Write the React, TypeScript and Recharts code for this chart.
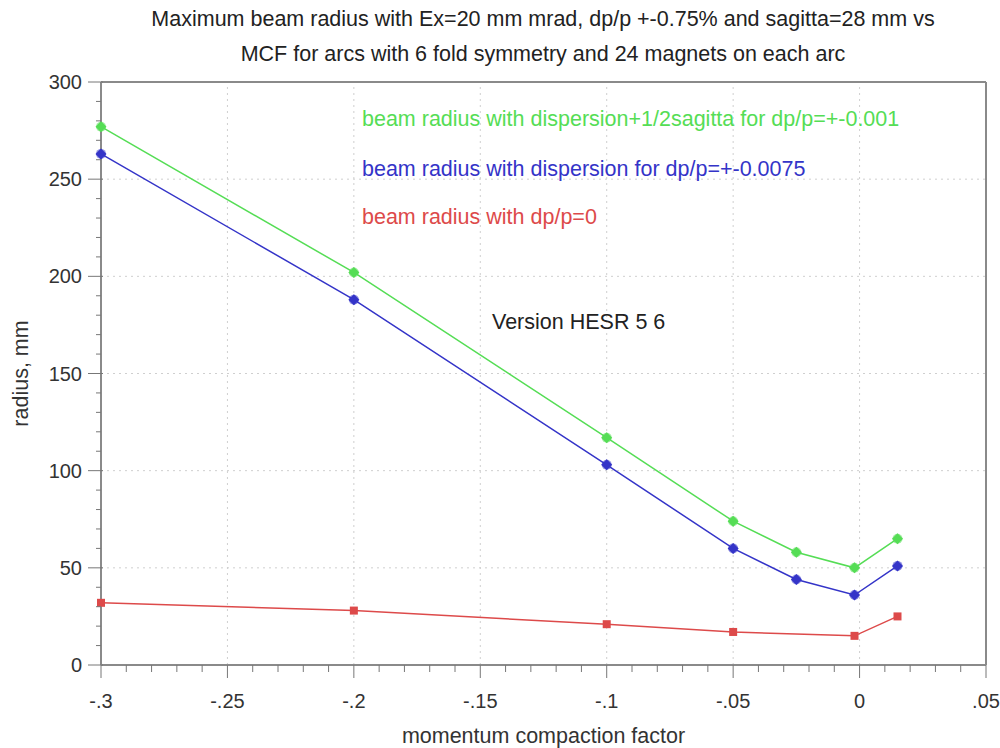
import { LineChart, Line, XAxis, YAxis, ReferenceLine } from "recharts";

const mcf = [-0.3, -0.2, -0.1, -0.05, -0.025, -0.002, 0.015];
const radiusSagitta = [277, 202, 117, 74, 58, 50, 65];
const radiusDispersion = [263, 188, 103, 60, 44, 36, 51];
const radiusZero = [32, 28, 21, 17, null, 15, 25];

const xMajor = [-0.3, -0.25, -0.2, -0.15, -0.1, -0.05, 0, 0.05];
const yMajor = [0, 50, 100, 150, 200, 250, 300];

// minor ticks every 0.01 on x and every 10 on y
const xTicks = Array.from({ length: 36 }, (_, i) => (i - 30) / 100);
const yTicks = Array.from({ length: 31 }, (_, i) => i * 10);

const data = mcf.map((x, i) => ({
  x,
  sagitta: radiusSagitta[i],
  dispersion: radiusDispersion[i],
  zero: radiusZero[i],
}));

const FONT = "'Liberation Sans', Arial, sans-serif";
const GREEN = "#55dd55";
const BLUE = "#3434c8";
const RED = "#dd4a4a";
const AXIS = "#8a8a8a";
const TXT = 21.5;

const fmtX = (v: number) => {
  if (Math.abs(v) < 1e-9) return "0";
  return v.toFixed(2).replace(/0+$/, "").replace("0.", ".");
};

const XTick = (props: any) => {
  const { x, y, payload } = props;
  const v = payload.value;
  const major = Math.round(v * 100) % 5 === 0;
  return (
    <g>
      <line x1={x} x2={x} y1={y} y2={y + (major ? 13 : 7)} stroke="#777" strokeWidth={1} />
      {major && (
        <text x={x} y={y + 43} textAnchor="middle" fontSize={20} fill="#333" fontFamily={FONT}>
          {fmtX(v)}
        </text>
      )}
    </g>
  );
};

const YTick = (props: any) => {
  const { x, y, payload } = props;
  const v = payload.value;
  const major = v % 50 === 0;
  return (
    <g>
      <line x1={major ? x - 13 : x - 5} x2={x + (major ? 2 : 0)} y1={y} y2={y} stroke="#777" strokeWidth={1} />
      {major && (
        <text x={x - 19} y={y} dy="0.35em" textAnchor="end" fontSize={20} fill="#333" fontFamily={FONT}>
          {v}
        </text>
      )}
    </g>
  );
};

const makeDot = (color: string, shape: "diamond" | "square") => (p: any) => {
  const { cx, cy, index } = p;
  if (cx == null || cy == null || p.value == null) return <g key={`d-${index}`} />;
  if (shape === "square") {
    return <rect key={`d-${index}`} x={cx - 4} y={cy - 4} width={8} height={8} fill={color} />;
  }
  return (
    <g key={`d-${index}`}>
      <circle cx={cx} cy={cy} r={5} fill={color} opacity={0.55} />
      <path d={`M${cx},${cy - 5.5} L${cx + 5.5},${cy} L${cx},${cy + 5.5} L${cx - 5.5},${cy} Z`} fill={color} />
    </g>
  );
};

const textStyle = (top: number, left: number, color: string) => ({
  position: "absolute" as const,
  top,
  left,
  color,
  fontSize: TXT,
  fontFamily: FONT,
  whiteSpace: "nowrap" as const,
  lineHeight: 1,
});

export default function App() {
  return (
    <div style={{ position: "absolute", left: 0, top: 0, width: 1000, height: 748, background: "#fff" }}>
      <div style={{ position: "absolute", top: 2, left: 0, width: 1086, textAlign: "center", fontSize: TXT, fontFamily: FONT, color: "#222", lineHeight: "35px" }}>
        <div>Maximum beam radius with Ex=20 mm mrad, dp/p +-0.75% and sagitta=28 mm vs</div>
        <div>MCF for arcs with 6 fold symmetry and 24 magnets on each arc</div>
      </div>
      <LineChart width={1000} height={748} data={data} margin={{ top: 82, right: 14, bottom: 0, left: 0 }}>
        {xMajor.slice(1, -1).map((v) => (
          <ReferenceLine key={`gx${v}`} x={v} stroke="#cfcfcf" strokeDasharray="2 4" />
        ))}
        {yMajor.slice(1, -1).map((v) => (
          <ReferenceLine key={`gy${v}`} y={v} stroke="#cfcfcf" strokeDasharray="2 4" />
        ))}
        <ReferenceLine y={300} stroke={AXIS} strokeWidth={2} />
        <ReferenceLine x={0.05} stroke={AXIS} strokeWidth={2} />
        <XAxis
          dataKey="x"
          type="number"
          domain={[-0.3, 0.05]}
          ticks={xTicks}
          interval={0}
          height={83}
          tickSize={0}
          tickMargin={0}
          tickLine={false}
          tick={<XTick />}
          axisLine={{ stroke: AXIS, strokeWidth: 2 }}
          label={{
            content: (p: any) => {
              const vb = p.viewBox;
              return (
                <text x={vb.x + vb.width / 2} y={743} textAnchor="middle" fontSize={TXT} fill="#333" fontFamily={FONT}>
                  momentum compaction factor
                </text>
              );
            },
          }}
        />
        <YAxis
          type="number"
          domain={[0, 300]}
          ticks={yTicks}
          interval={0}
          width={101}
          tickSize={0}
          tickMargin={0}
          tickLine={false}
          tick={<YTick />}
          axisLine={{ stroke: AXIS, strokeWidth: 2 }}
          label={{
            content: (p: any) => {
              const vb = p.viewBox;
              const cy = vb.y + vb.height / 2;
              return (
                <text x={28} y={cy} transform={`rotate(-90, 28, ${cy})`} textAnchor="middle" fontSize={TXT} fill="#333" fontFamily={FONT}>
                  radius, mm
                </text>
              );
            },
          }}
        />
        <Line dataKey="zero" stroke={RED} strokeWidth={1.5} connectNulls dot={makeDot(RED, "square")} isAnimationActive={false} />
        <Line dataKey="dispersion" stroke={BLUE} strokeWidth={1.5} dot={makeDot(BLUE, "diamond")} isAnimationActive={false} />
        <Line dataKey="sagitta" stroke={GREEN} strokeWidth={1.5} dot={makeDot(GREEN, "diamond")} isAnimationActive={false} />
      </LineChart>
      <div style={textStyle(109, 362, GREEN)}>beam radius with dispersion+1/2sagitta for dp/p=+-0.001</div>
      <div style={textStyle(159, 362, BLUE)}>beam radius with dispersion for dp/p=+-0.0075</div>
      <div style={textStyle(207, 362, RED)}>beam radius with dp/p=0</div>
      <div style={textStyle(312, 492, "#222")}>Version HESR 5 6</div>
    </div>
  );
}
